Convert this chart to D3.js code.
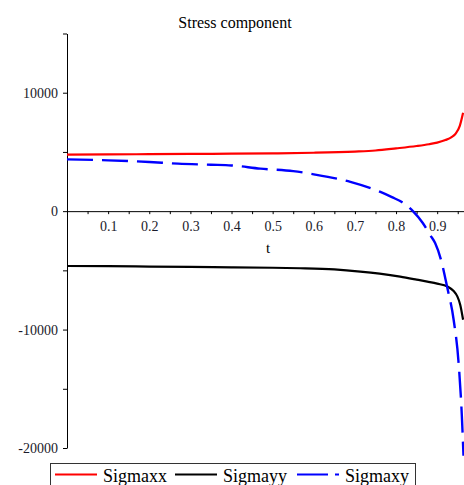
<!DOCTYPE html>
<html>
<head>
<meta charset="utf-8">
<script src="https://cdn.jsdelivr.net/npm/d3@7"></script>
<style>
  body { margin: 0; background: #fff; }
  svg { display: block; font-family: "Liberation Serif", "DejaVu Serif", serif; }
</style>
</head>
<body>
<div id="chart"></div>
<script>
// Series values
const sigmaxxT = [0, 0.1, 0.2, 0.3, 0.4, 0.5, 0.6, 0.7, 0.75, 0.8, 0.85, 0.88, 0.9, 0.92, 0.935, 0.945, 0.955, 0.963];
const sigmaxxV = [4780, 4790, 4810, 4830, 4850, 4880, 4930, 5030, 5120, 5300, 5500, 5650, 5780, 6000, 6250, 6550, 7200, 8300];

const sigmayyT = [0, 0.1, 0.2, 0.3, 0.4, 0.5, 0.567, 0.65, 0.713, 0.76, 0.81, 0.85, 0.876, 0.9, 0.925, 0.94, 0.949, 0.956, 0.963];
const sigmayyV = [-4630, -4650, -4680, -4710, -4740, -4780, -4820, -4920, -5100, -5280, -5530, -5780, -5950, -6120, -6370, -6750, -7200, -7900, -9170];

const sigmaxyT = [0, 0.1, 0.2, 0.27, 0.35, 0.4, 0.47, 0.55, 0.6, 0.689, 0.762, 0.79, 0.815, 0.841, 0.865, 0.883, 0.895, 0.91, 0.924, 0.94, 0.952, 0.96, 0.964];
const sigmaxyV = [4370, 4290, 4150, 4010, 3920, 3860, 3590, 3380, 3110, 2470, 1620, 1180, 750, 0, -1000, -2020, -2700, -4200, -6370, -9170, -12780, -17300, -20660];

const seriesNames = ["Sigmaxx", "Sigmayy", "Sigmaxy"];
const xTickLabels = ["0.1", "0.2", "0.3", "0.4", "0.5", "0.6", "0.7", "0.8", "0.9"];
const yTickLabels = ["10000", "0", "-10000", "-20000"];

const W = 464, H = 485;
const svg = d3.select("#chart").append("svg")
    .attr("width", W)
    .attr("height", H);

// Scales
const x = d3.scaleLinear().domain([0, 0.964]).range([67, 463.5]);
const y = d3.scaleLinear().domain([-20000, 15000]).range([448, 33.5]);

// Title
svg.append("text")
    .attr("x", 235)
    .attr("y", 28)
    .attr("text-anchor", "middle")
    .style("font-size", "16px")
    .text("Stress component");

// Y axis
const yTicks = d3.range(-20000, 15001, 5000);
const yAxis = svg.append("g")
    .attr("transform", `translate(${x(0)},0)`)
    .call(d3.axisLeft(y)
        .tickValues(yTicks)
        .tickSize(4)
        .tickSizeOuter(0)
        .tickPadding(5)
        .tickFormat(d => yTickLabels.includes(String(d)) ? String(d) : ""));
yAxis.attr("font-family", null);
yAxis.select(".domain").attr("stroke", "#000");
yAxis.selectAll("text").style("font-size", "14px").attr("fill", "#1a1a2a");

// X axis
const xTicks = d3.range(1, 20).map(i => i * 0.05);
const xAxis = svg.append("g")
    .attr("transform", `translate(0,${y(0)})`)
    .call(d3.axisBottom(x)
        .tickValues(xTicks)
        .tickSize(3)
        .tickSizeOuter(0)
        .tickPadding(7)
        .tickFormat(d => {
            const s = d3.format(".1f")(d);
            return xTickLabels.includes(s) && Math.round(d * 100) % 10 === 0 ? s : "";
        }));
xAxis.attr("font-family", null);
xAxis.select(".domain").attr("stroke", "#000");
xAxis.selectAll("text").style("font-size", "14px").attr("fill", "#1a1a2a");

// X axis label
svg.append("text")
    .attr("x", 268)
    .attr("y", 253)
    .attr("text-anchor", "middle")
    .style("font-size", "15px")
    .text("t");

// Lines
const line = d3.line()
    .x(d => x(d[0]))
    .y(d => y(d[1]))
    .curve(d3.curveMonotoneX);

const series = [
    {name: seriesNames[0], data: d3.zip(sigmaxxT, sigmaxxV), color: "#ff0000", width: 2.2, dash: null},
    {name: seriesNames[1], data: d3.zip(sigmayyT, sigmayyV), color: "#000000", width: 2.2, dash: null},
    {name: seriesNames[2], data: d3.zip(sigmaxyT, sigmaxyV), color: "#0000ff", width: 2.4, dash: "26,9"}
];

series.forEach(s => {
    svg.append("path")
        .datum(s.data)
        .attr("fill", "none")
        .attr("stroke", s.color)
        .attr("stroke-width", s.width)
        .attr("stroke-dasharray", s.dash)
        .attr("d", line);
});

// Legend
const legend = svg.append("g");
legend.append("rect")
    .attr("x", 50.5)
    .attr("y", 463.5)
    .attr("width", 365)
    .attr("height", 30)
    .attr("fill", "#fff")
    .attr("stroke", "#333");

const legendX = [55, 175, 297];
series.forEach((s, i) => {
    legend.append("line")
        .attr("x1", legendX[i])
        .attr("x2", legendX[i] + 42)
        .attr("y1", 474.5)
        .attr("y2", 474.5)
        .attr("stroke", s.color)
        .attr("stroke-width", 2.2)
        .attr("stroke-dasharray", s.dash ? "31,7" : null);
    legend.append("text")
        .attr("x", legendX[i] + 48)
        .attr("y", 482)
        .style("font-size", "18px")
        .text(s.name);
});
</script>
</body>
</html>
